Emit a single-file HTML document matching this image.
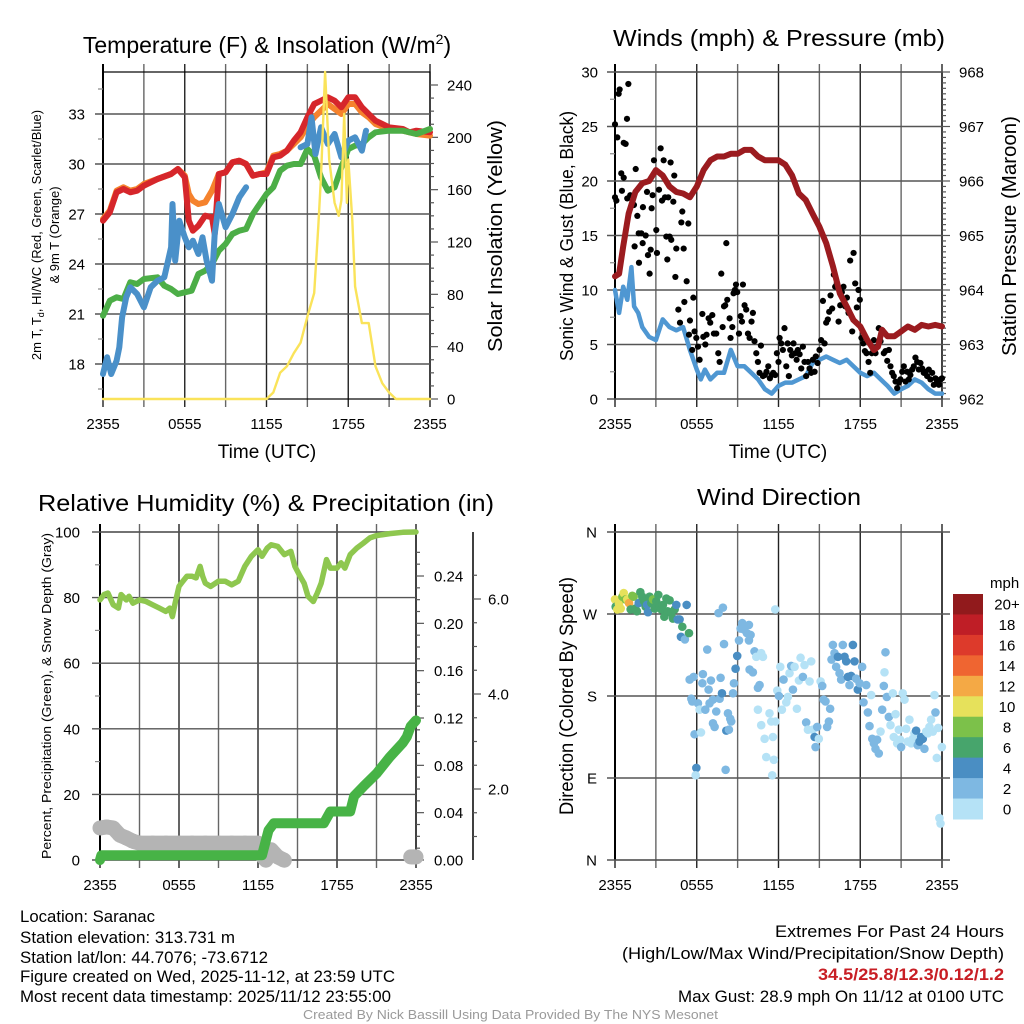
<!DOCTYPE html>
<html><head><meta charset="utf-8"><style>
html,body{margin:0;padding:0;background:#fff;}
svg{display:block;font-family:"Liberation Sans",sans-serif;}
</style></head><body>
<svg id="chart" width="1024" height="1024" viewBox="0 0 1024 1024" xmlns="http://www.w3.org/2000/svg">
<g id="g-tl"></g>
<g id="g-tr"></g>
<g id="g-bl"></g>
<g id="g-br"></g>
<g font-size="23" text-anchor="middle" fill="#000">
<text x="267" y="53">Temperature (F) &amp; Insolation (W/m<tspan font-size="14" dy="-9">2</tspan><tspan dy="9">)</tspan></text>
<text x="779" y="46" textLength="332" lengthAdjust="spacingAndGlyphs">Winds (mph) &amp; Pressure (mb)</text>
<text x="266" y="511" textLength="456" lengthAdjust="spacingAndGlyphs">Relative Humidity (%) &amp; Precipitation (in)</text>
<text x="779" y="505" textLength="164" lengthAdjust="spacingAndGlyphs">Wind Direction</text>
</g>
<g fill="#000">
<text x="267" y="458" font-size="19" text-anchor="middle">Time (UTC)</text>
<text x="778" y="458" font-size="19" text-anchor="middle">Time (UTC)</text>
<text transform="translate(41,235) rotate(-90)" font-size="13" text-anchor="middle">2m T, T<tspan font-size="9" dy="3">d</tspan><tspan dy="-3">, HI/WC (Red, Green, Scarlet/Blue)</tspan></text>
<text transform="translate(59,235) rotate(-90)" font-size="13" text-anchor="middle">&amp; 9m T (Orange)</text>
<text transform="translate(502,236) rotate(-90)" font-size="20" text-anchor="middle" textLength="232" lengthAdjust="spacingAndGlyphs">Solar Insolation (Yellow)</text>
<text transform="translate(573,236) rotate(-90)" font-size="18" text-anchor="middle" textLength="250" lengthAdjust="spacingAndGlyphs">Sonic Wind &amp; Gust (Blue, Black)</text>
<text transform="translate(1016,236) rotate(-90)" font-size="20" text-anchor="middle" textLength="240" lengthAdjust="spacingAndGlyphs">Station Pressure (Maroon)</text>
<text transform="translate(51,696) rotate(-90)" font-size="13" text-anchor="middle" textLength="326" lengthAdjust="spacingAndGlyphs">Percent, Precipitation (Green), &amp; Snow Depth (Gray)</text>
<text transform="translate(573,696) rotate(-90)" font-size="19" text-anchor="middle" textLength="238" lengthAdjust="spacingAndGlyphs">Direction (Colored By Speed)</text>
</g>
<g font-size="17" fill="#000">
<text x="20" y="922" textLength="135" lengthAdjust="spacingAndGlyphs">Location: Saranac</text>
<text x="20" y="943" textLength="215" lengthAdjust="spacingAndGlyphs">Station elevation: 313.731 m</text>
<text x="20" y="963" textLength="248" lengthAdjust="spacingAndGlyphs">Station lat/lon: 44.7076; -73.6712</text>
<text x="20" y="982" textLength="375" lengthAdjust="spacingAndGlyphs">Figure created on Wed, 2025-11-12, at 23:59 UTC</text>
<text x="20" y="1002" textLength="371" lengthAdjust="spacingAndGlyphs">Most recent data timestamp: 2025/11/12 23:55:00</text>
<text x="775" y="937" textLength="229" lengthAdjust="spacingAndGlyphs">Extremes For Past 24 Hours</text>
<text x="622" y="959" textLength="382" lengthAdjust="spacingAndGlyphs">(High/Low/Max Wind/Precipitation/Snow Depth)</text>
<text x="818" y="980" textLength="186" lengthAdjust="spacingAndGlyphs" fill="#c81e24" font-weight="bold">34.5/25.8/12.3/0.12/1.2</text>
<text x="678" y="1002" textLength="326" lengthAdjust="spacingAndGlyphs">Max Gust: 28.9 mph On 11/12 at 0100 UTC</text>
<text x="303" y="1019" font-size="13" fill="#9a9a9a" textLength="415" lengthAdjust="spacingAndGlyphs">Created By Nick Bassill Using Data Provided By The NYS Mesonet</text>
</g>
</svg>
<script>
// ---------- data ----------
const xTickLabels = ["2355","0555","1155","1755","2355"];
const tempTicks = [18,21,24,27,30,33];
const solarTicks = [0,40,80,120,160,200,240];
const windTicks = [0,5,10,15,20,25,30];
const pressTicks = [962,963,964,965,966,967,968];
const rhTicks = [0,20,40,60,80,100];
const precipTicks = [0.00,0.04,0.08,0.12,0.16,0.20,0.24];
const snowTicks = [2.0,4.0,6.0];
const dirTickLabels = ["N","E","S","W","N"];
const speedBins = ["0","2","4","6","8","10","12","14","16","18","20+"];

const redT = [0,0.5,1,1.5,2,2.5,3,4,5,5.5,6,6.3,6.6,7,7.5,8,8.2,8.5,9,9.5,10,10.5,11,11.5,12,12.5,13,13.5,14,14.5,15,15.5,16,16.5,17,17.5,18,18.5,19,19.5,20,21,22,22.5,23,24];
const redV = [26.6,27.1,28.3,28.5,28.3,28.4,28.7,29.1,29.4,29.7,29.2,26.6,26.0,26.3,26.9,26.8,25.8,29.4,29.5,30.1,30.2,30.0,29.3,29.4,29.4,30.4,30.5,30.8,31.4,31.9,32.8,33.6,33.8,34.0,33.8,33.4,34.0,34.0,33.4,33.0,32.6,32.2,32.1,31.9,32.0,31.9];
const orangeT = [0,0.5,1,1.5,2,2.5,3,4,5,5.5,6,6.3,6.6,7,7.5,8,8.5,9,9.5,10,10.5,11,11.5,12,12.5,13,13.5,14,14.5,15,15.5,16,16.5,17,17.5,18,18.5,19,19.5,20,21,22,23,24];
const orangeV = [26.7,27.2,28.4,28.6,28.4,28.5,28.8,29.1,29.4,29.7,29.3,28.2,27.8,27.6,27.7,28.4,29.4,29.5,30.1,30.2,30.0,29.3,29.4,29.5,30.5,30.6,30.8,31.2,31.6,32.3,32.8,33.2,33.6,33.3,33.0,33.6,33.6,33.1,32.8,32.4,32.1,32.0,31.8,31.7];
const greenT = [0,0.5,1,1.5,2,2.5,3,4,4.5,5,5.5,6,6.5,7,7.5,8,8.5,9,9.5,10,10.5,11,11.5,12,12.5,13,13.5,14,14.5,15,15.5,16,16.5,17,17.5,18,18.5,19,19.5,20,21,22,23,24];
const greenV = [20.9,21.8,22.0,21.9,22.9,22.8,23.1,23.2,22.7,22.5,22.2,22.3,22.4,23.4,23.6,24.0,24.8,25.2,25.8,26.0,26.1,27.0,27.6,28.2,28.6,29.6,29.9,30.0,30.0,30.9,30.5,29.2,28.4,28.6,29.8,30.9,31.1,31.2,31.6,31.9,32.0,32.0,31.8,32.1];
const blueT = [0,0.3,0.6,1,1.2,1.4,1.7,2,2.5,3,3.5,4,4.5,5,5.1,5.3,5.6,6,6.3,6.6,7,7.3,7.6,8,8.2,8.5,9,9.5,10,10.5,12,14.5,15,15.3,15.6,16,16.5,17,17.5,18,18.5,19,19.3];
const blueV = [17.4,18.4,17.4,18.2,19.0,20.8,22.0,22.6,22.2,21.4,22.6,23.0,23.2,25.0,27.6,24.2,26.6,25.6,25.0,25.4,24.6,25.6,24.2,23.0,25.8,27.6,26.2,27.0,28.0,28.6,null,31.0,31.2,32.8,30.6,32.2,31.2,31.8,30.4,31.4,31.6,30.8,32.0];
const solarT = [0,12,12.5,13,13.5,14,14.5,15,15.5,15.8,16,16.3,16.6,17,17.3,17.5,17.7,17.9,18,18.3,18.5,19,19.5,20,20.5,21,21.5,24];
const solarV = [0,0,5,20,25,35,43,63,81,132,170,250,183,150,140,152,218,150,183,137,86,58,58,25,12,5,0,0];

const sonicT = [0,0.3,0.6,0.9,1.2,1.4,1.7,2,2.5,3,3.5,4,4.5,5,5.5,6,6.3,6.6,7,7.5,8,8.5,9,9.5,10,10.5,11,11.5,12,12.5,13,13.5,14,14.5,15,15.5,16,16.5,17,17.5,18,18.5,19,19.5,20,20.5,21,21.5,22,22.5,23,23.5,24];
const sonicV = [10,7.9,10.3,9.1,12.1,8.5,7.9,6.6,5.7,5.4,7.3,6.6,6.3,6.6,4.5,2.7,1.8,2.7,1.8,2.4,2.4,4.5,3.0,3.0,2.4,1.8,0.9,0.5,1.2,1.5,1.5,1.8,2.1,3.3,3.6,3.9,3.6,3.3,3.6,3.0,2.4,2.1,2.4,1.8,1.2,0.5,0.9,1.2,1.8,1.5,0.9,0.5,0.5];
const pressT = [0,0.3,0.6,1,1.5,2,2.5,3,3.5,4,4.5,5,5.5,6,6.5,7,7.5,8,8.5,9,9.5,10,10.5,11,11.5,12,12.5,13,13.5,14,14.5,15,15.5,16,16.5,17,17.5,18,18.5,19,19.3,19.6,20,20.5,21,21.5,22,22.5,23,23.5,24];
const pressV = [964.25,964.3,964.8,965.4,965.8,965.96,966.0,966.2,966.1,965.9,965.8,965.77,965.7,965.9,966.2,966.38,966.45,966.45,966.5,966.5,966.57,966.57,966.45,966.38,966.38,966.38,966.3,966.1,965.77,965.65,965.4,965.16,964.86,964.43,963.94,963.7,963.45,963.33,963.09,962.9,962.96,963.27,963.15,963.15,963.24,963.33,963.27,963.36,963.33,963.36,963.33];
const gustT = [0,0,0.1,0.17,0.27,0.34,0.64,0.78,0.88,0.98,0.46,0.64,0.51,0.9,1.12,1.39,1.44,1.52,1.64,1.74,1.76,1.93,2.03,2.05,2.25,2.35,2.42,2.54,2.62,2.69,2.76,2.86,3.03,3.08,3.23,3.35,3.45,3.57,3.67,3.77,3.84,3.91,4.01,4.13,4.08,4.28,4.35,4.43,4.5,4.65,4.77,4.87,4.94,5.04,5.09,5.26,5.38,5.5,5.43,5.67,5.75,5.84,5.97,6.09,6.21,6.41,6.48,6.63,6.72,6.87,6.99,7.14,7.26,7.43,7.58,7.68,7.8,7.9,8.0,8.09,8.17,8.24,8.41,8.48,8.61,8.7,8.8,8.88,8.97,9.1,9.22,9.32,9.39,9.51,9.63,9.76,9.88,10.02,10.12,10.24,10.37,10.49,10.61,10.71,10.86,11.0,11.12,11.25,11.37,11.49,11.61,11.76,11.88,12.0,12.08,12.2,12.32,12.44,12.57,12.67,12.76,12.86,12.98,13.1,13.23,13.33,13.42,13.55,13.67,13.79,13.91,14.03,14.16,14.28,14.4,14.52,14.65,14.74,14.87,15.01,15.13,15.26,15.38,15.5,15.62,15.72,15.82,15.94,16.06,16.16,16.28,16.41,16.53,16.65,16.77,16.89,17.02,17.14,17.26,17.41,17.51,17.63,17.75,17.87,17.97,18.09,18.22,18.34,18.46,18.61,18.73,18.85,19.0,19.12,19.24,19.36,19.49,19.61,19.73,19.85,19.98,20.1,20.22,20.34,20.46,20.59,20.71,20.83,20.95,21.08,21.2,21.32,21.44,21.56,21.68,21.81,21.93,22.05,22.18,22.3,22.42,22.54,22.66,22.79,22.91,23.03,23.15,23.28,23.4,23.52,23.64,23.77,23.89,24.0];
const gustV = [25.2,18.5,18.2,24.0,28.0,28.4,23.5,23.4,25.7,28.9,20.7,20.3,19.1,18.4,18.7,17.8,14.0,21.1,16.8,15.2,12.5,15.2,14.3,17.6,15.0,19.0,13.2,11.5,13.7,17.5,18.7,21.9,15.5,13.4,19.2,23.0,18.2,21.9,18.5,14.9,12.8,18.5,14.9,14.6,21.7,18.1,20.5,11.2,13.8,8.2,7.0,16.2,17.2,13.8,8.9,10.8,16.1,7.2,5.9,4.5,9.3,6.2,5.6,4.8,3.6,7.8,5.7,5.0,5.9,7.4,7.0,7.7,6.0,6.0,4.2,3.4,11.5,6.6,8.5,8.6,14.3,9.1,7.4,5.6,6.6,9.7,10.0,10.5,9.8,6.0,7.6,7.1,10.5,8.6,8.2,6.0,5.6,7.1,7.9,5.3,4.2,3.4,2.4,4.9,2.1,2.2,2.5,3.0,1.9,2.2,2.4,2.2,4.2,3.4,5.6,5.1,4.5,6.5,3.0,5.1,2.1,4.5,4.0,5.1,4.2,3.6,4.5,4.1,2.8,4.8,3.4,2.1,3.4,2.8,2.4,3.6,2.5,3.9,3.3,4.5,5.4,9.0,5.1,7.0,7.3,8.0,9.5,8.3,11.4,10.3,10.6,7.1,8.6,9.8,10.3,8.5,9.3,7.9,12.7,6.2,13.4,10.6,8.4,10.0,9.1,5.6,5.1,4.4,4.2,3.4,2.4,4.2,5.4,4.2,4.8,6.5,5.3,6.3,4.2,4.4,3.5,4.5,3.0,2.4,2.1,1.6,1.0,1.5,1.8,2.5,3.0,1.6,2.5,1.8,2.2,2.7,3.0,3.8,3.4,2.7,3.3,2.8,2.4,2.5,2.1,2.7,1.8,2.4,1.3,1.9,1.6,1.3,1.8,1.9];

const rhT = [0,0.3,0.6,1,1.4,1.6,2,2.2,2.5,3,3.5,4,4.5,5,5.3,5.5,5.7,6,6.3,6.6,7,7.3,7.6,7.8,8,8.4,9,9.5,10,10.5,11,11.5,12,12.3,12.7,13,13.5,14,14.5,14.8,15.2,15.5,15.8,16.2,16.5,16.8,17.2,17.5,18,18.3,18.6,19,19.5,20,20.5,21,22,23,24];
const rhV = [79.3,80.9,81.4,77.8,76.8,80.9,79.3,80.4,78.3,79.3,78.8,77.8,76.8,75.8,76.8,74.2,78.3,83.4,85.0,86.5,86.5,86.0,89.5,86.5,84.4,83.4,85.0,85.0,83.9,85.0,89.5,92.6,94.6,92.6,95.1,96.1,95.6,93.1,94.1,89.5,86.5,84.4,80.4,78.8,81.4,84.4,91.6,89.0,89.0,90.6,89.0,93.1,95.1,96.6,98.2,98.9,99.5,99.9,100];
const precipT = [0,0.1,12.3,12.8,13.2,17,17.5,19,19.3,20,21,22,23,23.3,23.6,24];
const precipV = [0,0.004,0.004,0.025,0.031,0.031,0.041,0.041,0.054,0.062,0.073,0.087,0.099,0.104,0.113,0.118];
const snowT = [0,0.5,1,1.5,2,2.5,3,4,5,6,7,8,9,10,11,12,12.3,12.6,13,13.5,14,23.6,23.8,24];
const snowV = [1.18,1.2,1.18,1.03,0.97,0.9,0.86,0.86,0.86,0.86,0.86,0.86,0.86,0.86,0.86,0.86,0.6,0.5,0.72,0.57,0.5,0.57,0.57,0.57];

const dirT = [0.0,0.05,0.17,0.29,0.42,0.54,0.64,0.78,0.9,1.03,1.15,1.27,1.37,1.49,1.61,1.74,1.86,2.0,2.13,2.25,2.35,2.42,2.54,2.67,2.79,2.91,3.03,3.18,3.28,3.4,3.52,3.62,3.77,3.86,4.01,4.13,4.25,4.38,4.5,4.6,4.74,4.84,4.94,5.13,5.26,5.43,
5.48,5.6,5.67,5.77,5.84,5.97,5.92,6.09,6.21,6.31,6.41,6.45,6.63,6.77,6.87,6.94,7.04,7.19,7.19,7.31,7.43,7.68,7.75,7.85,8.0,7.92,7.6,8.12,8.17,8.29,8.36,8.46,8.53,8.66,8.73,8.85,8.97,9.1,9.22,9.34,9.46,9.58,9.68,9.83,9.95,9.83,9.88,10.12,10.24,10.37,10.49,10.61,10.73,10.86,10.49,10.73,10.98,11.1,11.34,11.47,11.59,11.66,11.54,11.78,11.76,11.91,12.03,12.13,12.25,12.37,12.57,12.69,12.81,12.93,13.06,13.18,13.35,13.5,13.62,13.79,13.91,14.03,14.16,14.28,14.4,14.52,14.65,14.72,14.84,14.96,15.09,15.21,15.31,15.45,15.57,15.7,15.79,15.89,15.99,16.11,16.23,16.36,16.48,16.6,16.72,16.85,16.97,17.09,17.21,17.33,17.46,17.58,17.7,17.82,17.95,18.14,18.24,18.44,18.56,18.68,18.8,18.88,19.0,19.12,19.24,19.36,19.49,19.61,19.73,19.78,19.85,19.95,20.1,20.22,20.39,20.46,20.59,20.71,20.83,20.93,21.0,21.12,21.25,21.37,21.49,21.61,21.74,21.86,21.98,22.1,22.22,22.35,22.47,22.59,22.71,22.84,22.96,23.08,23.2,23.33,23.45,23.52,23.62,23.72,23.81,23.89,23.99];
const dirV = [286,278,275,281,276,289,293,286,286,282,275,290,289,276,273,282,294,289,284,278,280,272,289,282,286,276,284,291,278,275,280,267,287,273,285,271,265,275,280,264,264,245,256,242,280,249,
198,177,174,201,138,101,93,172,165,140,194,204,165,231,187,172,197,176,150,146,163,177,200,183,237,277,271,99,142,161,143,155,152,183,194,210,224,241,254,260,253,257,249,258,247,241,209,206,229,223,189,192,227,223,165,148,133,113,161,152,135,110,93,152,275,186,180,212,165,198,173,179,205,213,187,212,166,197,222,201,214,151,143,196,218,143,135,124,146,133,196,191,176,174,146,152,166,220,236,227,212,223,205,198,236,223,218,201,192,202,236,218,199,187,194,212,173,192,162,147,181,133,128,122,132,117,141,165,191,206,228,179,157,148,183,135,160,128,143,132,124,183,176,144,130,154,128,133,139,142,126,130,135,133,122,141,139,146,154,141,181,162,112,145,46,40,124];
const dirS = [11,7,11,11,11,9,11,9,11,13,7,9,9,7,7,5,7,7,7,7,5,5,7,7,9,7,7,7,7,7,7,7,7,7,7,7,7,7,5,5,5,5,7,3,5,7,
3,3,3,3,3,5,1,3,1,1,3,3,3,3,3,3,3,3,3,3,3,3,3,5,3,3,3,3,5,3,3,3,3,3,3,5,5,3,3,3,3,3,3,3,3,3,3,3,3,1,3,3,1,1,1,1,1,1,1,1,1,1,1,1,1,1,3,1,1,3,1,1,1,3,3,1,1,1,1,3,1,3,1,1,1,1,5,3,3,1,1,3,3,3,3,3,3,3,3,3,3,5,3,3,3,5,5,5,3,5,5,5,3,5,3,3,3,3,3,3,1,3,3,3,3,3,1,3,3,1,3,3,3,1,1,1,1,1,1,1,3,1,1,1,1,1,1,1,1,5,3,5,5,5,3,1,1,1,1,1,1,3,1,1,1,1,1];

// ---------- helpers ----------
const NS = "http://www.w3.org/2000/svg";
function mk(parent, tag, attrs){ const e=document.createElementNS(NS,tag); for(const k in attrs) e.setAttribute(k,attrs[k]); parent.appendChild(e); return e; }
function pathD(ts, vs, xf, yf){ let d="", pen=false; for(let i=0;i<ts.length;i++){ if(vs[i]===null){pen=false;continue;} d+=(pen?"L":"M")+xf(ts[i]).toFixed(1)+","+yf(vs[i]).toFixed(1); pen=true;} return d; }
const speedColors = ["#b5e2f6","#7eb8e2","#4a8ec3","#47a56c","#7cc14a","#e6e15b","#f4a945","#ef6531","#dd3a2b","#bf1e26","#911a1c"];
function speedColor(s){ return speedColors[Math.min(10,Math.floor(s/2))]; }

function frame(g, x0,x1,y0,y1, prefix){
  for(let h=0; h<=24; h+=3){
    const x = x0 + h*(x1-x0)/24;
    const l = mk(g,"line",{x1:x,x2:x,y1:y0-8,y2:y1+8,stroke:(h%6==0)?"#222":"#666","stroke-width":1.4});
    
    
  }
  for(let i=0;i<xTickLabels.length;i++){
    const x = x0 + i*6*(x1-x0)/24;
    const t = mk(g,"text",{x:x,y:y1+30,"font-size":15,"text-anchor":"middle"});
    t.textContent = xTickLabels[i];
    
    
  }
  const r = mk(g,"rect",{x:x0,y:y0,width:x1-x0,height:y1-y0,fill:"none",stroke:"#000","stroke-width":1.2});
  
  
  const la = mk(g,"line",{x1:x0,x2:x0,y1:y0-8,y2:y1,stroke:"#000","stroke-width":2});
  
  
}
function hGrid(g, x0,x1, y, label, lx, anchor, prefix, drawLine){
  if(drawLine){
    const l = mk(g,"line",{x1:x0-8,x2:x1,y1:y,y2:y,stroke:"#555","stroke-width":1.4});
    
    
  }
  const t = mk(g,"text",{x:lx,y:y+5.5,"font-size":15,"text-anchor":anchor});
  t.textContent = label;
  
  
}
function rTick(g, x, y, len, prefix){
  const l = mk(g,"line",{x1:x,x2:x+len,y1:y,y2:y,stroke:"#555","stroke-width":1.2});
  
  
}
function series(g, ts, vs, xf, yf, color, w, name){
  const p = mk(g,"path",{d:pathD(ts,vs,xf,yf),fill:"none",stroke:color,"stroke-width":w,"stroke-linejoin":"round","stroke-linecap":"round"});
  
  
  return p;
}

// ---------- top-left: temperature ----------
(function(){
  const g=document.getElementById("g-tl");
  const x0=103,x1=430,y0=72,y1=399;
  const xf=h=>x0+h*(x1-x0)/24;
  const ty=v=>114+(33-v)*16.667;
  const sy=v=>y1-v*314/240;
  frame(g,x0,x1,y0,y1,"tl");
  tempTicks.forEach(v=>hGrid(g,x0,x1,ty(v),String(v),85,"end","tl",true));
  for(let v=16.5; v<35.5; v+=3){ const l=mk(g,"line",{x1:x0-5,x2:x0,y1:ty(v),y2:ty(v),stroke:"#888","stroke-width":1.2});   }
  solarTicks.forEach(v=>{ rTick(g,x1,sy(v),8,"solar"); hGrid(g,x1,x1,sy(v),String(v),447,"start","solar",false); });
  for(let v=10; v<250; v+=10){ if(v%40) rTick(g,x1,sy(v),4,"solar-minor"); }
  const cg=mk(g,"g",{});
  
  
  series(cg,orangeT,orangeV,xf,ty,"#f5822d",6,"9m-temperature-line");
  series(cg,redT,redV,xf,ty,"#d6262b",6,"2m-temperature-line");
  series(cg,greenT,greenV,xf,ty,"#4cae47",6,"dewpoint-line");
  series(cg,blueT,blueV,xf,ty,"#4a90c9",6,"wind-chill-line");
  series(cg,solarT,solarV,xf,v=>Math.max(y0,sy(v)),"#fae35a",2.4,"solar-insolation-line");
})();

// ---------- top-right: winds ----------
(function(){
  const g=document.getElementById("g-tr");
  const x0=615,x1=942,y0=72,y1=399;
  const xf=h=>x0+h*(x1-x0)/24;
  const wy=v=>y1-v*10.9;
  const py=p=>y1-(p-962)*54.5;
  frame(g,x0,x1,y0,y1,"tr");
  windTicks.forEach(v=>hGrid(g,x0,x1,wy(v),String(v),598,"end","tr",true));
  for(let v=2.5; v<30; v+=5){ const l=mk(g,"line",{x1:x0-5,x2:x0,y1:wy(v),y2:wy(v),stroke:"#888","stroke-width":1.2});   }
  pressTicks.forEach(v=>{ rTick(g,x1,py(v),8,"pressure"); hGrid(g,x1,x1,py(v),String(v),959,"start","pressure",false); });
  for(let v=962.1; v<968; v+=0.1){ if(Math.abs(v-Math.round(v))>0.05) rTick(g,x1,py(v),4,"pressure-minor"); }
  series(g,sonicT,sonicV,xf,wy,"#4f97d2",4.5,"sonic-wind-line");
  const dg=mk(g,"g",{});
  
  
  for(let i=0;i<gustT.length;i++){
    const c=mk(dg,"circle",{cx:xf(gustT[i]),cy:wy(gustV[i]),r:3.1,fill:"#000"});
    
    
  }
  series(g,pressT,pressV,xf,py,"#9b1b1f",6,"pressure-line");
})();

// ---------- bottom-left: humidity ----------
(function(){
  const g=document.getElementById("g-bl");
  const x0=100,x1=416,y0=532,y1=860;
  const xf=h=>x0+h*(x1-x0)/24;
  const ry=v=>y1-v*3.28;
  const pyy=v=>y1-v*1183.3;
  const syy=v=>884-v*47.5;
  frame(g,x0,x1,y0,y1,"bl");
  rhTicks.forEach(v=>hGrid(g,x0,x1,ry(v),String(v),80,"end","bl",true));
  for(let v=10; v<100; v+=20){ const l=mk(g,"line",{x1:x0-5,x2:x0,y1:ry(v),y2:ry(v),stroke:"#888","stroke-width":1.2});   }
  precipTicks.forEach(v=>{ rTick(g,x1,pyy(v),8,"precip"); hGrid(g,x1,x1,pyy(v),v.toFixed(2),434,"start","precip",false); });
  for(let v=0.01; v<0.27; v+=0.01){ if(Math.round(v*100)%4) rTick(g,x1,pyy(v),4,"precip-minor"); }
  const ax=mk(g,"line",{x1:473,x2:473,y1:y0,y2:y1,stroke:"#000","stroke-width":1.5});
  
  
  snowTicks.forEach(v=>{ rTick(g,473,syy(v),8,"snow"); hGrid(g,473,473,syy(v),v.toFixed(1),488,"start","snow",false); });
  for(let v=1.0; v<7; v+=0.5){ if(Math.abs(v-Math.round(v/2)*2)>0.1) rTick(g,473,syy(v),4,"snow-minor"); }
  const sg=mk(g,"g",{});
  
  
  for(let i=0;i<snowT.length;i++){
    const c=mk(sg,"circle",{cx:xf(snowT[i]),cy:syy(snowV[i]),r:7.5,fill:"#b4b4b4"});
    
    
    if(i>0 && snowT[i]-snowT[i-1]<2){
      const l=mk(sg,"line",{x1:xf(snowT[i-1]),y1:syy(snowV[i-1]),x2:xf(snowT[i]),y2:syy(snowV[i]),stroke:"#b4b4b4","stroke-width":15});
      
      
    }
  }
  series(g,rhT,rhV,xf,ry,"#8ec74f",5.5,"relative-humidity-line");
  series(g,precipT,precipV,xf,pyy,"#47b346",10,"precipitation-line");
})();

// ---------- bottom-right: wind direction ----------
(function(){
  const g=document.getElementById("g-br");
  const x0=615,x1=942,y0=532,y1=860;
  const xf=h=>x0+h*(x1-x0)/24;
  const dy=d=>y1-d*328/360;
  frame(g,x0,x1,y0,y1,"br");
  dirTickLabels.forEach((lab,i)=>hGrid(g,x0,x1+8,dy(i*90),lab,597,"end","br",true));
  const pg=mk(g,"g",{});
  
  
  for(let i=0;i<dirT.length;i++){
    const c=mk(pg,"circle",{cx:xf(dirT[i]),cy:dy(dirV[i]),r:4.3,fill:speedColor(dirS[i])});
    
    
  }
  const lg=mk(g,"g",{});
  
  
  const t=mk(lg,"text",{x:990,y:588,"font-size":15}); t.textContent="mph";
  
  
  const bh=(819-594)/speedBins.length;
  for(let i=0;i<speedBins.length;i++){
    const k=speedBins.length-1-i;
    const y=594+i*bh;
    const r=mk(lg,"rect",{x:953,y:y,width:30,height:bh+0.5,fill:speedColors[k]});
    
    
    const tl=mk(lg,"text",{x:1007,y:y+bh/2+5.5,"font-size":15,"text-anchor":"middle"});
    tl.textContent=speedBins[k];
    
    
  }
})();
</script>
</body></html>
